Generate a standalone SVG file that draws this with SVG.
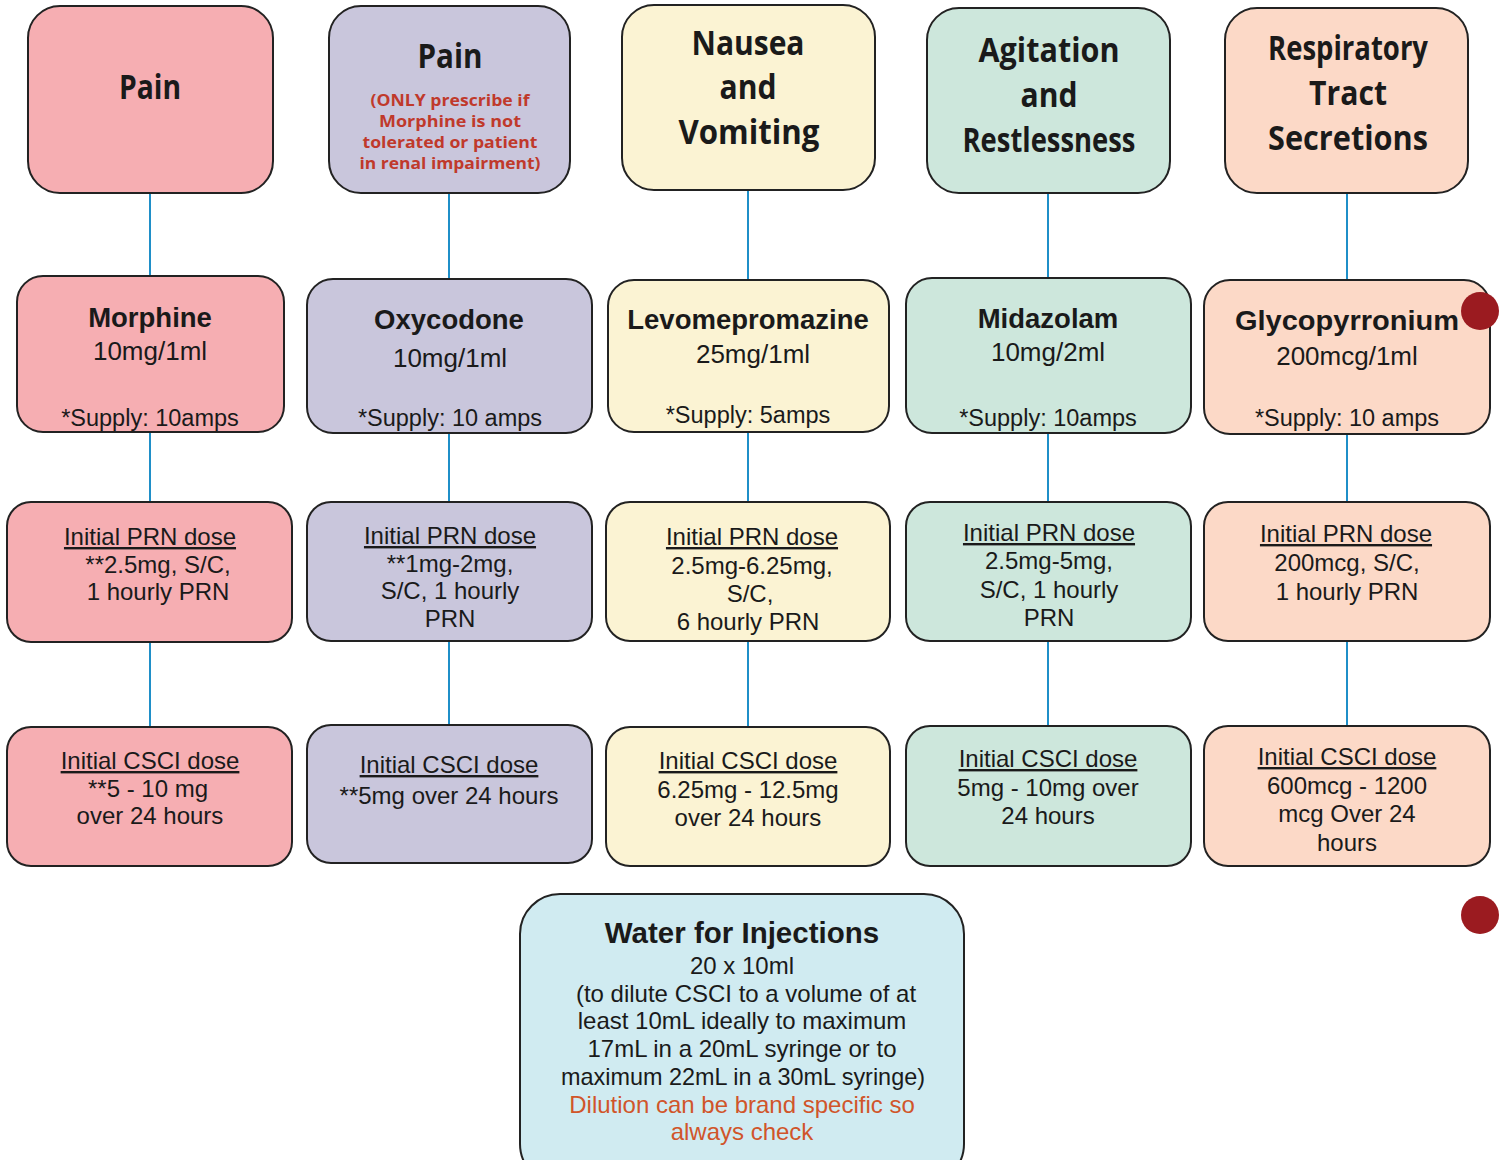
<svg xmlns="http://www.w3.org/2000/svg" width="1499" height="1160" viewBox="0 0 1499 1160">
<style>
.b{stroke:#222;stroke-width:2}
.c1{fill:#f6aeb2}.c2{fill:#c9c6dc}.c3{fill:#fbf3d3}.c4{fill:#cde7dc}.c5{fill:#fcd9c7}.c6{fill:#d0ebf1}
.h{font-family:"Open Sans","Liberation Sans",sans-serif;font-weight:bold;font-size:34px;fill:#1a1a1a;text-anchor:middle}
.r{font-family:"Open Sans","Liberation Sans",sans-serif;font-weight:bold;font-size:15.5px;fill:#c0392b;text-anchor:middle}
.n{font-family:"Liberation Sans",Arial,sans-serif;font-weight:bold;font-size:27.5px;fill:#1a1a1a;text-anchor:middle}
.s{font-family:"Liberation Sans",Arial,sans-serif;font-size:26px;fill:#1a1a1a;text-anchor:middle}
.t{font-family:"Liberation Sans",Arial,sans-serif;font-size:24px;fill:#1a1a1a;text-anchor:middle}
.p{font-family:"Liberation Sans",Arial,sans-serif;font-size:23.5px;fill:#1a1a1a;text-anchor:middle}
.w{font-family:"Liberation Sans",Arial,sans-serif;font-weight:bold;font-size:29.5px;fill:#1a1a1a;text-anchor:middle}
.u{text-decoration:underline}
.o{fill:#d0552a}
.ln{stroke:#1f8fc8;stroke-width:2}
</style>
<g id="connectors">
<line class="ln" x1="150" y1="193" x2="150" y2="276"/><line class="ln" x1="150" y1="432" x2="150" y2="502"/><line class="ln" x1="150" y1="642" x2="150" y2="727"/>
<line class="ln" x1="449" y1="193" x2="449" y2="279"/><line class="ln" x1="449" y1="433" x2="449" y2="502"/><line class="ln" x1="449" y1="641" x2="449" y2="725"/>
<line class="ln" x1="748" y1="190" x2="748" y2="280"/><line class="ln" x1="748" y1="432" x2="748" y2="502"/><line class="ln" x1="748" y1="641" x2="748" y2="727"/>
<line class="ln" x1="1048" y1="193" x2="1048" y2="278"/><line class="ln" x1="1048" y1="433" x2="1048" y2="502"/><line class="ln" x1="1048" y1="641" x2="1048" y2="726"/>
<line class="ln" x1="1347" y1="193" x2="1347" y2="280"/><line class="ln" x1="1347" y1="434" x2="1347" y2="502"/><line class="ln" x1="1347" y1="641" x2="1347" y2="726"/>
</g>
<g id="pain1"><rect class="b c1" x="28" y="6" width="245" height="187" rx="32"/><text class="h" x="150" y="99" textLength="62" lengthAdjust="spacingAndGlyphs">Pain</text></g>
<g id="pain2"><rect class="b c2" x="329" y="6" width="241" height="187" rx="32"/><text class="h" x="450" y="68" textLength="65" lengthAdjust="spacingAndGlyphs">Pain</text>
<text class="r" x="450" y="106" textLength="159" lengthAdjust="spacingAndGlyphs">(ONLY prescribe if</text><text class="r" x="450" y="127" textLength="142" lengthAdjust="spacingAndGlyphs">Morphine is not</text><text class="r" x="450" y="148" textLength="175" lengthAdjust="spacingAndGlyphs">tolerated or patient</text><text class="r" x="450" y="169" textLength="181" lengthAdjust="spacingAndGlyphs">in renal impairment)</text></g>
<g id="nausea"><rect class="b c3" x="622" y="5" width="253" height="185" rx="32"/><text class="h" x="748" y="55" textLength="113" lengthAdjust="spacingAndGlyphs">Nausea</text><text class="h" x="748" y="99" textLength="57" lengthAdjust="spacingAndGlyphs">and</text><text class="h" x="749" y="144" textLength="141" lengthAdjust="spacingAndGlyphs">Vomiting</text></g>
<g id="agitation"><rect class="b c4" x="927" y="8" width="243" height="185" rx="32"/><text class="h" x="1049" y="62" textLength="141" lengthAdjust="spacingAndGlyphs">Agitation</text><text class="h" x="1049" y="107" textLength="57" lengthAdjust="spacingAndGlyphs">and</text><text class="h" x="1049" y="152" textLength="173" lengthAdjust="spacingAndGlyphs">Restlessness</text></g>
<g id="resp"><rect class="b c5" x="1225" y="8" width="243" height="185" rx="32"/><text class="h" x="1348" y="60" textLength="160" lengthAdjust="spacingAndGlyphs">Respiratory</text><text class="h" x="1348" y="105" textLength="78" lengthAdjust="spacingAndGlyphs">Tract</text><text class="h" x="1348" y="150" textLength="160" lengthAdjust="spacingAndGlyphs">Secretions</text></g>

<g id="morphine"><rect class="b c1" x="17" y="276" width="267" height="156" rx="26"/><text class="n" x="150" y="327">Morphine</text><text class="s" x="150" y="360">10mg/1ml</text><text class="p" x="150" y="426">*Supply: 10amps</text></g>
<g id="oxycodone"><rect class="b c2" x="307" y="279" width="285" height="154" rx="26"/><text class="n" x="449" y="329">Oxycodone</text><text class="s" x="450" y="367">10mg/1ml</text><text class="p" x="450" y="426">*Supply: 10 amps</text></g>
<g id="levo"><rect class="b c3" x="608" y="280" width="281" height="152" rx="26"/><text class="n" x="748" y="329">Levomepromazine</text><text class="s" x="753" y="363">25mg/1ml</text><text class="p" x="748" y="423">*Supply: 5amps</text></g>
<g id="midazolam"><rect class="b c4" x="906" y="278" width="285" height="155" rx="26"/><text class="n" x="1048" y="328">Midazolam</text><text class="s" x="1048" y="361">10mg/2ml</text><text class="p" x="1048" y="426">*Supply: 10amps</text></g>
<g id="glyco"><rect class="b c5" x="1204" y="280" width="286" height="154" rx="26"/><text class="n" x="1347" y="330" textLength="224" lengthAdjust="spacingAndGlyphs">Glycopyrronium</text><text class="s" x="1347" y="365">200mcg/1ml</text><text class="p" x="1347" y="426">*Supply: 10 amps</text></g>

<g id="prn1"><rect class="b c1" x="7" y="502" width="285" height="140" rx="24"/><text class="t" x="150" y="545"><tspan class="u">Initial PRN dose</tspan></text><text class="t" x="158" y="573">**2.5mg, S/C,</text><text class="t" x="158" y="600">1 hourly PRN</text></g>
<g id="prn2"><rect class="b c2" x="307" y="502" width="285" height="139" rx="24"/><text class="t" x="450" y="544"><tspan class="u">Initial PRN dose</tspan></text><text class="t" x="450" y="572">**1mg-2mg,</text><text class="t" x="450" y="599">S/C, 1 hourly</text><text class="t" x="450" y="627">PRN</text></g>
<g id="prn3"><rect class="b c3" x="606" y="502" width="284" height="139" rx="24"/><text class="t" x="752" y="545"><tspan class="u">Initial PRN dose</tspan></text><text class="t" x="752" y="574">2.5mg-6.25mg,</text><text class="t" x="750" y="602">S/C,</text><text class="t" x="748" y="630">6 hourly PRN</text></g>
<g id="prn4"><rect class="b c4" x="906" y="502" width="285" height="139" rx="24"/><text class="t" x="1049" y="541"><tspan class="u">Initial PRN dose</tspan></text><text class="t" x="1049" y="569">2.5mg-5mg,</text><text class="t" x="1049" y="598">S/C, 1 hourly</text><text class="t" x="1049" y="626">PRN</text></g>
<g id="prn5"><rect class="b c5" x="1204" y="502" width="286" height="139" rx="24"/><text class="t" x="1346" y="542"><tspan class="u">Initial PRN dose</tspan></text><text class="t" x="1347" y="571">200mcg, S/C,</text><text class="t" x="1347" y="600">1 hourly PRN</text></g>

<g id="csci1"><rect class="b c1" x="7" y="727" width="285" height="139" rx="24"/><text class="t" x="150" y="769"><tspan class="u">Initial CSCI dose</tspan></text><text class="t" x="148" y="797">**5 - 10 mg</text><text class="t" x="150" y="824">over 24 hours</text></g>
<g id="csci2"><rect class="b c2" x="307" y="725" width="285" height="138" rx="24"/><text class="t" x="449" y="773"><tspan class="u">Initial CSCI dose</tspan></text><text class="t" x="449" y="804">**5mg over 24 hours</text></g>
<g id="csci3"><rect class="b c3" x="606" y="727" width="284" height="139" rx="24"/><text class="t" x="748" y="769"><tspan class="u">Initial CSCI dose</tspan></text><text class="t" x="748" y="798">6.25mg - 12.5mg</text><text class="t" x="748" y="826">over 24 hours</text></g>
<g id="csci4"><rect class="b c4" x="906" y="726" width="285" height="140" rx="24"/><text class="t" x="1048" y="767"><tspan class="u">Initial CSCI dose</tspan></text><text class="t" x="1048" y="796">5mg - 10mg over</text><text class="t" x="1048" y="824">24 hours</text></g>
<g id="csci5"><rect class="b c5" x="1204" y="726" width="286" height="140" rx="24"/><text class="t" x="1347" y="765"><tspan class="u">Initial CSCI dose</tspan></text><text class="t" x="1347" y="794">600mcg - 1200</text><text class="t" x="1347" y="822">mcg Over 24</text><text class="t" x="1347" y="851">hours</text></g>

<g id="water"><rect class="b c6" x="520" y="894" width="444" height="290" rx="40"/>
<text class="w" x="742" y="943">Water for Injections</text>
<text class="t" x="742" y="974">20 x 10ml</text>
<text class="t" x="746" y="1002">(to dilute CSCI to a volume of at</text>
<text class="t" x="742" y="1029">least 10mL ideally to maximum</text>
<text class="t" x="742" y="1057">17mL in a 20mL syringe or to</text>
<text class="t" x="743" y="1085" textLength="364" lengthAdjust="spacingAndGlyphs">maximum 22mL in a 30mL syringe)</text>
<text class="t o" x="742" y="1113">Dilution can be brand specific so</text>
<text class="t o" x="742" y="1140">always check</text></g>

<circle cx="1480" cy="311" r="19" fill="#9b1b20"/>
<circle cx="1480" cy="915" r="19" fill="#9b1b20"/>
</svg>
